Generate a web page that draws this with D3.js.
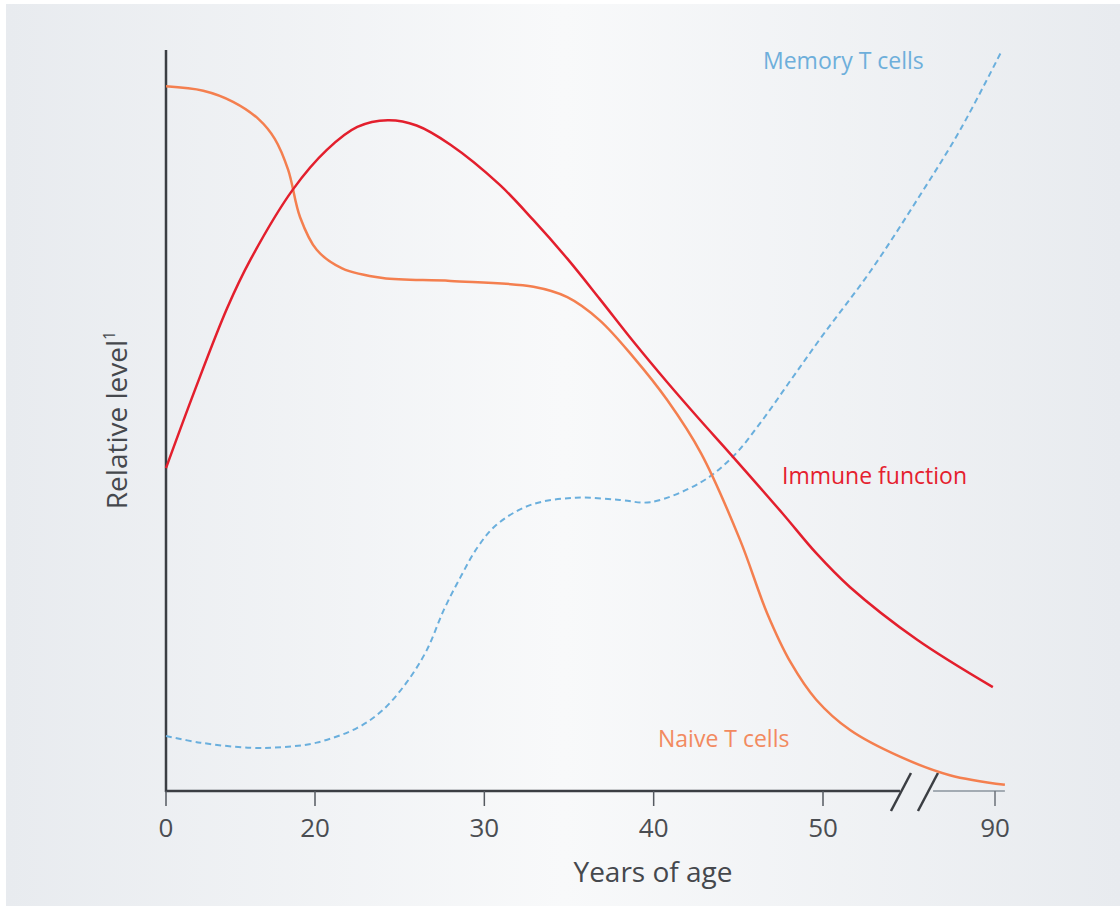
<!DOCTYPE html>
<html>
<head>
<meta charset="utf-8">
<script src="https://cdn.jsdelivr.net/npm/d3@7"></script>
<style>
  html, body { margin: 0; padding: 0; background: #ffffff; }
  svg { display: block; }
  text { font-family: "Open Sans", "Noto Sans", sans-serif; }
</style>
</head>
<body>
<svg id="chart" width="1120" height="906"></svg>
<script>
// ---- data (age in years, relative level 0-100) ----
const tickAges = [0, 20, 30, 40, 50, 90];
const tickLabels = ["0", "20", "30", "40", "50", "90"];

const naiveAge   = [0, 5.0, 9.0, 12.5, 14.6, 16.4, 18.0, 20.1, 21.6, 24.0, 28.0, 32.9, 34.9, 36.8, 38.8, 40.8, 42.8, 45.1, 46.7, 48.1, 49.6, 56.3, 67.9, 79.5, 92.3];
const naiveLevel = [95.1, 94.5, 93.0, 90.6, 88.0, 83.8, 77.4, 73.0, 70.5, 69.2, 68.8, 68.0, 66.6, 63.5, 58.5, 52.7, 45.5, 33.8, 23.9, 17.2, 12.2, 8.1, 4.5, 2.0, 0.7];

const immuneAge   = [0, 3.9, 8.2, 11.3, 17.0, 20.7, 22.5, 24.3, 26.0, 28.0, 30.9, 32.9, 34.9, 36.8, 38.8, 40.8, 42.7, 44.5, 47.6, 49.6, 56.3, 71.9, 89.5];
const immuneLevel = [43.5, 54.1, 65.1, 71.6, 81.1, 86.5, 89.6, 90.5, 89.8, 87.2, 81.8, 77.0, 71.8, 66.4, 60.6, 55.1, 50.1, 45.5, 37.4, 32.0, 27.4, 20.3, 13.9];

const memoryAge   = [0, 4.6, 11.3, 15.7, 20.1, 22.5, 24.0, 25.4, 26.6, 27.6, 28.6, 29.6, 30.7, 32.7, 35.4, 38.0, 39.8, 42.8, 44.7, 46.3, 48.1, 50.0, 60.9, 72.6, 81.9, 91.4];
const memoryLevel = [7.3, 6.4, 5.7, 5.8, 6.4, 8.4, 10.8, 14.5, 18.9, 24.3, 28.8, 32.8, 35.8, 38.5, 39.5, 39.2, 38.9, 41.6, 45.1, 49.6, 55.4, 61.5, 70.0, 80.4, 89.2, 99.7];

const seriesNames = ["Naive T cells", "Immune function", "Memory T cells"];

// ---- layout ----
const svg = d3.select("#chart");
const W = 1120, H = 906;

const defs = svg.append("defs");
const grad = defs.append("linearGradient").attr("id", "bg").attr("x1", "0").attr("x2", "1").attr("y1", "0").attr("y2", "0");
grad.append("stop").attr("offset", "0%").attr("stop-color", "#e8ebef");
grad.append("stop").attr("offset", "50%").attr("stop-color", "#f8f9fa");
grad.append("stop").attr("offset", "100%").attr("stop-color", "#e8ebef");
svg.append("rect").attr("x", 6).attr("y", 4).attr("width", W - 6).attr("height", H - 4).attr("fill", "url(#bg)");

// piecewise x scale (axis is compressed 0-20 and broken after 50)
const x = d3.scaleLinear().domain([0, 20, 50, 90]).range([166, 315, 823, 995]);
const y = d3.scaleLinear().domain([0, 100]).range([790, 50]);

const line = d3.line().x(d => x(d[0])).y(d => y(d[1])).curve(d3.curveCatmullRom.alpha(0.5));

const zip = (a, b) => a.map((v, i) => [v, b[i]]);

// ---- axes ----
const axisY = y(0) + 1;
// y axis
svg.append("line").attr("x1", x(0)).attr("x2", x(0)).attr("y1", 50).attr("y2", axisY + 1)
  .attr("stroke", "#3b3e43").attr("stroke-width", 2.5);
// x axis (dark part, up to break)
const breakL = x(67.9), breakR = x(75.6), axisEnd = x(92.3);
svg.append("line").attr("x1", x(0) - 1).attr("x2", breakL).attr("y1", axisY).attr("y2", axisY)
  .attr("stroke", "#3b3e43").attr("stroke-width", 2.5);
svg.append("line").attr("x1", breakR).attr("x2", axisEnd).attr("y1", axisY).attr("y2", axisY)
  .attr("stroke", "#a3abb3").attr("stroke-width", 2);
// break slashes
[breakL - 9, breakL + 18].forEach(bx => {
  svg.append("line").attr("x1", bx).attr("y1", axisY + 20).attr("x2", bx + 20).attr("y2", axisY - 18)
    .attr("stroke", "#3b3e43").attr("stroke-width", 2.5);
});
// ticks
const ticks = svg.append("g");
tickAges.forEach((a, i) => {
  ticks.append("line").attr("x1", x(a)).attr("x2", x(a)).attr("y1", axisY).attr("y2", axisY + 15)
    .attr("stroke", a === 90 ? "#6b7078" : "#555a60").attr("stroke-width", 1.5);
  ticks.append("text").attr("x", x(a)).attr("y", axisY + 46).attr("text-anchor", "middle")
    .attr("font-size", 26).attr("fill", "#4a4d52").text(tickLabels[i]);
});

// axis titles
svg.append("text").attr("x", 653).attr("y", 882).attr("text-anchor", "middle")
  .attr("font-size", 28).attr("fill", "#45484d").text("Years of age");
const yt = svg.append("text").attr("transform", "translate(127,420) rotate(-90)").attr("text-anchor", "middle")
  .attr("font-size", 28).attr("fill", "#45484d");
yt.append("tspan").text("Relative level");
yt.append("tspan").attr("font-size", 16).attr("dy", -12).text("1");

// ---- series ----
svg.append("path").datum(zip(memoryAge, memoryLevel)).attr("d", line)
  .attr("fill", "none").attr("stroke", "#6aafdd").attr("stroke-width", 2).attr("stroke-dasharray", "6,4");
svg.append("path").datum(zip(naiveAge, naiveLevel)).attr("d", line)
  .attr("fill", "none").attr("stroke", "#f47f4f").attr("stroke-width", 2.5);
svg.append("path").datum(zip(immuneAge, immuneLevel)).attr("d", line)
  .attr("fill", "none").attr("stroke", "#e31f2d").attr("stroke-width", 2.5);

// ---- labels ----
svg.append("text").attr("x", 763).attr("y", 69).attr("font-size", 23).attr("fill", "#6eafdb").text(seriesNames[2]);
svg.append("text").attr("x", 782).attr("y", 484).attr("font-size", 23).attr("fill", "#e5202e").text(seriesNames[1]);
svg.append("text").attr("x", 658).attr("y", 747).attr("font-size", 23).attr("fill", "#f28a60").text(seriesNames[0]);
</script>
</body>
</html>
